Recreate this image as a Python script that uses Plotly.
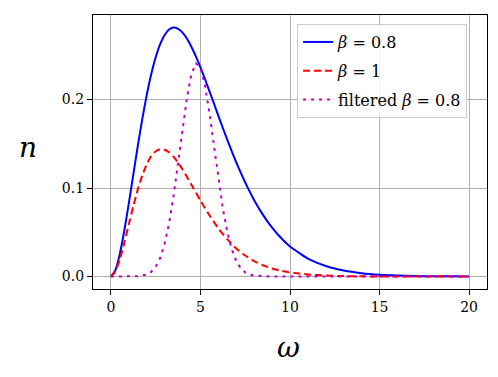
import plotly.graph_objects as go

# values
omega_a = [0, 0.25, 0.5, 0.75, 1, 1.25, 1.5, 1.75, 2, 2.25, 2.5, 2.75, 3, 3.25, 3.5,
           3.75, 4, 4.25, 4.5, 4.75, 5, 5.25, 5.5, 5.75, 6, 6.25, 6.5, 6.75, 7, 7.25,
           7.5, 7.75, 8, 8.5, 9, 9.5, 10, 11, 12, 13, 14, 15, 16, 17, 18, 19, 20]
n_beta08 = [0, 0.0072, 0.0258, 0.0520, 0.0827, 0.1152, 0.1474, 0.1777, 0.2051,
            0.2285, 0.2478, 0.2626, 0.2729, 0.2791, 0.2813, 0.2799, 0.2756, 0.2686,
            0.2594, 0.2485, 0.2363, 0.2232, 0.2095, 0.1956, 0.1816, 0.1678, 0.1544,
            0.1414, 0.1290, 0.1173, 0.1062, 0.0959, 0.0863, 0.0694, 0.0552, 0.0435,
            0.0340, 0.0203, 0.0119, 0.0068, 0.0038, 0.0021, 0.0012, 0.0006, 0.0003,
            0.0002, 0.0001]

omega_b = [0, 0.25, 0.5, 0.75, 1, 1.25, 1.5, 1.75, 2, 2.25, 2.5, 2.75, 3, 3.25, 3.5,
           3.75, 4, 4.25, 4.5, 5, 5.5, 6, 6.5, 7, 7.5, 8, 8.5, 9, 9.5, 10, 11, 12,
           13, 14, 15, 16, 17, 18, 19, 20]
n_beta1 = [0, 0.0056, 0.0195, 0.0383, 0.0590, 0.0795, 0.0982, 0.1142, 0.1269,
           0.1360, 0.1416, 0.1439, 0.1433, 0.1403, 0.1353, 0.1287, 0.1210, 0.1125,
           0.1037, 0.0859, 0.0692, 0.0544, 0.0419, 0.0317, 0.0237, 0.0174, 0.0127,
           0.0091, 0.0065, 0.0046, 0.0023, 0.0011, 0.0005, 0.0002, 0.0001, 0, 0, 0,
           0, 0]

omega_c = [0, 0.5, 1, 1.5, 2, 2.25, 2.5, 2.75, 3, 3.25, 3.5, 3.75, 4, 4.25, 4.5,
           4.75, 5, 5.25, 5.5, 5.75, 6, 6.25, 6.5, 6.75, 7, 7.25, 7.5, 7.75, 8,
           8.5, 9, 10, 12, 14, 16, 18, 20]
n_filtered = [0, 0, 0, 0.0003, 0.0023, 0.0052, 0.0109, 0.0209, 0.0369, 0.0604,
              0.0913, 0.1281, 0.1672, 0.2027, 0.2289, 0.2408, 0.2363, 0.2163,
              0.1849, 0.1476, 0.1101, 0.0768, 0.0501, 0.0306, 0.0175, 0.0093,
              0.0047, 0.0022, 0.0010, 0.0002, 0, 0, 0, 0, 0, 0, 0]

x_ticks = [0, 5, 10, 15, 20]
y_ticks = [0.0, 0.1, 0.2]

FONT = "DejaVu Serif"

fig = go.Figure()
fig.add_trace(go.Scatter(x=omega_a, y=n_beta08, mode="lines", legendgroup="a",
                         line=dict(color="#0000ff", width=2, shape="spline", smoothing=0.5),
                         name="<i>β</i> = 0.8"))
fig.add_trace(go.Scatter(x=omega_b, y=n_beta1, mode="lines", legendgroup="b",
                         line=dict(color="#ff0000", width=2, dash="7px,4px",
                                   shape="spline", smoothing=0.5),
                         name="<i>β</i> = 1"))
fig.add_trace(go.Scatter(x=omega_c, y=n_filtered, mode="lines", legendgroup="c",
                         line=dict(color="#bf00bf", width=2, dash="3px,5px"),
                         name="filtered <i>β</i> = 0.8"))

axis_common = dict(showline=True, linecolor="black", linewidth=1.2, mirror=True,
                   showgrid=True, gridcolor="#b0b0b0", gridwidth=1,
                   ticks="outside", ticklen=5, tickwidth=1.2, tickcolor="black",
                   zeroline=False, automargin=False,
                   tickfont=dict(family=FONT, size=14, color="black"))

fig.update_xaxes(range=[-1, 21], tickvals=x_ticks, **axis_common)
fig.update_yaxes(range=[-0.0141, 0.2955], tickvals=y_ticks, tickformat=".1f",
                 **axis_common)

# the page body adds an 8px offset, so the figure is 490x369
fig.update_layout(
    width=490, height=369,
    margin=dict(l=85, r=11, t=7, b=88, autoexpand=False),
    plot_bgcolor="white", paper_bgcolor="white",
    font=dict(family=FONT, color="black"),
    legend=dict(x=0.518, y=0.967, xanchor="left", yanchor="top",
                bgcolor="rgba(255,255,255,0.8)", bordercolor="#cccccc",
                borderwidth=1, font=dict(family=FONT, size=16),
                itemwidth=30, tracegroupgap=5),
    annotations=[
        dict(text="<i>n</i>", xref="paper", yref="paper", x=-0.165, y=0.515,
             xanchor="center", yanchor="middle",
             showarrow=False, font=dict(family=FONT, size=28)),
        dict(text="<i>ω</i>", xref="paper", yref="paper", x=0.497, y=-0.215,
             xanchor="center", yanchor="middle",
             showarrow=False, font=dict(family=FONT, size=28)),
    ],
)

fig.write_html("out.html")
